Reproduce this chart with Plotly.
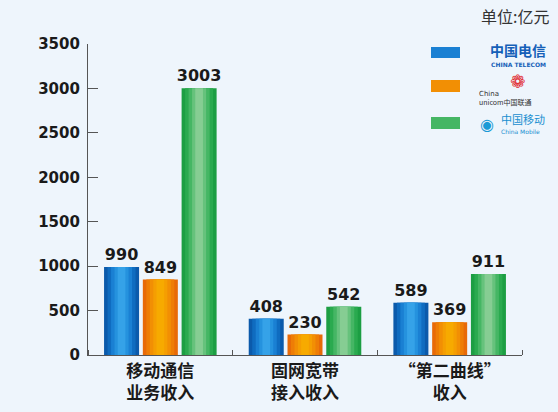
import plotly.graph_objects as go

categories = ["移动通信<br>业务收入", "固网宽带<br>接入收入", "“第二曲线”<br>收入"]
series_names = ["中国电信", "中国联通", "中国移动"]
telecom = [990, 408, 589]
unicom = [849, 230, 369]
mobile = [3003, 542, 911]
y_ticks = [0, 500, 1000, 1500, 2000, 2500, 3000, 3500]

series_values = [telecom, unicom, mobile]
# gradient palettes: edge -> center
palettes = [
    ["#0b5aab", "#0f6cc0", "#1a80d3", "#2592de", "#35a2e8"],
    ["#e86a08", "#ee7d06", "#f28f04", "#f59e02", "#f7aa00"],
    ["#1c9e43", "#2aaa4f", "#45b664", "#66c27c", "#86cd93"],
]
fracs = [1.0, 0.8, 0.6, 0.4, 0.22]

x = list(range(len(categories)))
slot = 0.268
bw = 0.242

fig = go.Figure()
for i, vals in enumerate(series_values):
    center = (i - 1) * slot
    for k, f in enumerate(fracs):
        w = bw * f
        fig.add_trace(go.Bar(
            x=x, y=vals, width=w, offset=center - w / 2,
            marker=dict(color=palettes[i][k], line=dict(width=0)),
            name=series_names[i], showlegend=False,
            text=[str(v) for v in vals] if k == 0 else None,
            textposition="outside" if k == 0 else "none",
            constraintext="none",
            textfont=dict(family="DejaVu Sans", size=16, color="#1a1a1a", weight="bold"),
            cliponaxis=False, hoverinfo="skip",
        ))

bg = "#eef5fc"
L, R, T, B = 88, 36, 44, 57
W, H = 558, 412
fig.update_layout(
    barmode="overlay",
    width=W, height=H,
    margin=dict(l=L, r=R, t=T, b=B, autoexpand=False),
    paper_bgcolor=bg, plot_bgcolor=bg,
    showlegend=False,
    font=dict(family="Noto Sans CJK SC", color="#1a1a1a"),
)
fig.update_xaxes(
    range=[-0.5, 2.5], tickvals=x, ticktext=categories,
    ticks="", showline=True, linecolor="#555", linewidth=1.2,
    showgrid=False, zeroline=False,
    tickfont=dict(family="Noto Sans CJK SC", size=17, color="#1a1a1a", weight="bold"),
    minor=dict(tick0=0.5, dtick=1, ticks="inside", ticklen=5, tickcolor="#555", tickwidth=1.2),
)
fig.update_yaxes(
    range=[0, 3500], tickvals=y_ticks, ticks="inside", ticklen=10,
    tickcolor="#555", tickwidth=1.2, showline=True, linecolor="#555", linewidth=1.2,
    showgrid=False, zeroline=False, ticklabelstandoff=4,
    tickfont=dict(family="DejaVu Sans", size=15, color="#1a1a1a", weight="bold"),
)

def px_to_paper_x(px):
    return (px - L) / (W - L - R)

def px_to_paper_y(py):
    return (H - B - py) / (H - T - B)

# unit label
fig.add_annotation(xref="paper", yref="paper", x=px_to_paper_x(551), y=px_to_paper_y(16),
                   xanchor="right", yanchor="middle",
                   text="单位:亿元", showarrow=False,
                   font=dict(family="Noto Sans CJK SC", size=16, color="#333333"))

# custom legend swatches (paper coords)
legend_rows = [(47, 58), (80, 92), (117, 129)]
for i, (y0, y1) in enumerate(legend_rows):
    fig.add_shape(type="rect", xref="paper", yref="paper",
                  x0=px_to_paper_x(431), x1=px_to_paper_x(460),
                  y0=px_to_paper_y(y1), y1=px_to_paper_y(y0),
                  fillcolor=palettes[i][2], line=dict(width=0), layer="above")

# telecom logo text
fig.add_annotation(xref="paper", yref="paper", x=px_to_paper_x(548), y=px_to_paper_y(50),
                   xanchor="right", yanchor="middle", showarrow=False,
                   text="<b>中国电信</b>", font=dict(family="Noto Sans CJK SC", size=14, color="#1560b8"))
fig.add_annotation(xref="paper", yref="paper", x=px_to_paper_x(548), y=px_to_paper_y(64),
                   xanchor="right", yanchor="middle", showarrow=False,
                   text="<b>CHINA TELECOM</b>", font=dict(family="DejaVu Sans", size=6, color="#1560b8"))
# unicom
fig.add_annotation(xref="paper", yref="paper", x=px_to_paper_x(517), y=px_to_paper_y(81),
                   xanchor="center", yanchor="middle", showarrow=False,
                   text="❁", font=dict(family="DejaVu Sans", size=18, color="#e0252b"))
fig.add_annotation(xref="paper", yref="paper", x=px_to_paper_x(477), y=px_to_paper_y(94),
                   xanchor="left", yanchor="middle", showarrow=False,
                   text="China", font=dict(family="DejaVu Sans", size=7, color="#333"))
fig.add_annotation(xref="paper", yref="paper", x=px_to_paper_x(477), y=px_to_paper_y(102),
                   xanchor="left", yanchor="middle", showarrow=False,
                   text="unicom中国联通", font=dict(family="Noto Sans CJK SC", size=7, color="#333"))
# mobile
fig.add_annotation(xref="paper", yref="paper", x=px_to_paper_x(487), y=px_to_paper_y(124),
                   xanchor="center", yanchor="middle", showarrow=False,
                   text="◉", font=dict(family="DejaVu Sans", size=16, color="#1a9ad6"))
fig.add_annotation(xref="paper", yref="paper", x=px_to_paper_x(499), y=px_to_paper_y(119),
                   xanchor="left", yanchor="middle", showarrow=False,
                   text="中国移动", font=dict(family="Noto Sans CJK SC", size=11, color="#1a8fd0"))
fig.add_annotation(xref="paper", yref="paper", x=px_to_paper_x(499), y=px_to_paper_y(131),
                   xanchor="left", yanchor="middle", showarrow=False,
                   text="China Mobile", font=dict(family="DejaVu Sans", size=6, color="#1a8fd0"))

fig.write_html("out.html", config={"displayModeBar": False},
               post_script="document.body.style.margin='0';document.body.style.overflow='hidden';")
